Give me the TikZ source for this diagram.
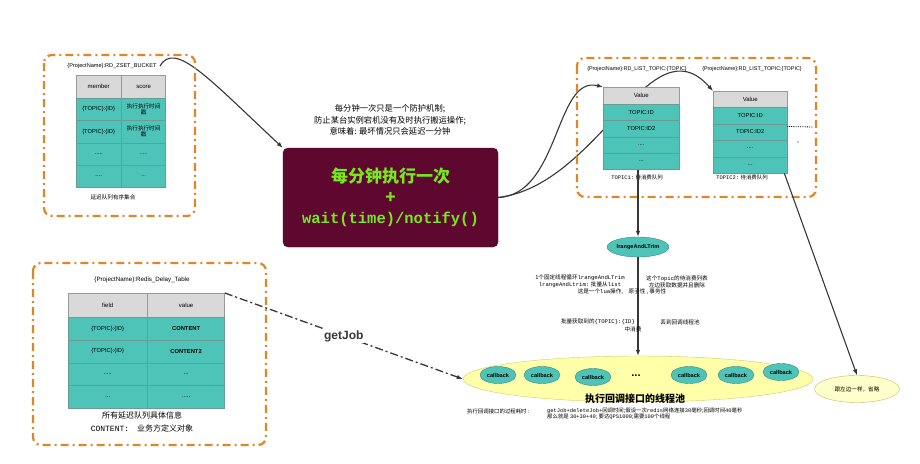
\documentclass[tikz,border=0pt]{standalone}
\usepackage{fontspec}
\setmainfont{Noto Sans CJK SC}
\newfontfamily\arialfont{Liberation Sans}
\newfontfamily\monofont{Liberation Mono}
\usetikzlibrary{arrows.meta,positioning,shapes.geometric,calc}

\definecolor{zoneorange}{RGB}{224,134,40}
\definecolor{cellteal}{RGB}{78,196,184}
\definecolor{headgray}{RGB}{217,217,217}
\definecolor{clockred}{RGB}{94,8,48}
\definecolor{clockgreen}{RGB}{118,232,30}
\definecolor{poolyellow}{RGB}{255,255,170}
\definecolor{linegray}{RGB}{55,55,55}

\newcommand{\fsz}[2]{\fontsize{#1}{#2}\selectfont}
\newcommand{\cellfourdots}{....}
\newcommand{\cellthreedots}{...}

\pgfdeclarelayer{back}
\pgfsetlayers{back,main}

\tikzset{
  zonebox/.style={draw=zoneorange, line width=2.2pt, rounded corners=8pt,
    dash pattern=on 8pt off 4pt on 2pt off 4pt},
  headcell/.style={draw=gray!80, fill=headgray, inner sep=0pt, align=center,
    font=\fsz{6}{7}\arialfont},
  bodycell/.style={draw=gray!60!cellteal, fill=cellteal, inner sep=0pt, align=center,
    font=\fsz{5.8}{7}\arialfont},
  smallnote/.style={align=center, inner sep=0pt, font=\fsz{5.6}{7}},
  cbnode/.style={ellipse, draw=cellteal!70!black, fill=cellteal, inner sep=0pt,
    minimum width=36pt, minimum height=17pt, font=\fsz{5.6}{6}\arialfont\bfseries},
  link/.style={->, draw=linegray, line width=1.1pt}
}

\begin{document}
\begin{tikzpicture}[
  x=1pt, y=-1pt,
  >={Latex[length=6pt,width=4.5pt]},
  font=\fsz{6}{7}
]
\useasboundingbox (0,0) rectangle (920,463);

% dash-dot zones
\draw[zonebox] (44,55) rectangle (195,216);
\draw[zonebox] (577,58) rectangle (816,197);
\draw[zonebox] (33,263) rectangle (266,445);

% zset bucket
\node[font=\fsz{5.6}{6}\arialfont] (zsettitle) at (112,66) {\{ProjectName\}:RD\_ZSET\_BUCKET};
\node[headcell, minimum width=45pt, minimum height=23pt, anchor=north west] (zs-h1) at (76,75) {member};
\node[headcell, minimum width=44pt, minimum height=23pt, right=0pt of zs-h1] (zs-h2) {score};
\foreach \a/\b [count=\i] in {{\{TOPIC\}:\{ID\}}/{执行执行时间\\戳}, {\{TOPIC\}:\{ID\}}/{执行执行时间\\戳},
    {\cellfourdots.}/{\cellfourdots.}, {\cellfourdots}/{\cellthreedots}} {
  \node[bodycell, minimum width=45pt, minimum height=22.25pt, anchor=north west] (zs-a\i) at (76,{98+(\i-1)*22.25}) {\a};
  \node[bodycell, minimum width=44pt, minimum height=22.25pt, right=0pt of zs-a\i, font=\fsz{5.6}{6.5}] (zs-b\i) {\b};
}
\node[smallnote] (zsetcap) at (113,197) {延迟队列有序集合};

% per-minute mover
\node[align=center, font=\fsz{8.3}{11.5}] (guardnote) at (390,120)
  {每分钟一次只是一个防护机制;\\防止某台实例宕机没有及时执行搬运操作;\\意味着: 最坏情况只会延迟一分钟};
\node[draw=clockred!60!black, fill=clockred, rounded corners=5pt,
  minimum width=215pt, minimum height=99pt, align=center, text=clockgreen,
  font=\fsz{17}{20.5}\bfseries] (clock) at (390.5,197.5)
  {每分钟执行一次\\+\\{\monofont\fsz{15.5}{20.5}\bfseries wait(time)/notify()}};

% topic lists
\node[font=\fsz{5.4}{6}\arialfont] (lt1title) at (637,69) {\{ProjectName\}:RD\_LIST\_TOPIC:\{TOPIC\}};
\node[font=\fsz{5.4}{6}\arialfont] (lt2title) at (752,69) {\{ProjectName\}:RD\_LIST\_TOPIC:\{TOPIC\}};
\node[headcell, minimum width=76pt, minimum height=17pt, anchor=north west] (lt1-h) at (603,87) {Value};
\foreach \t [count=\i] in {TOPIC:ID, TOPIC:ID2, \cellfourdots, \cellthreedots}
  \node[bodycell, minimum width=76pt, minimum height=16.3pt, anchor=north west] (lt1-r\i) at (603,{104+(\i-1)*16.3}) {\t};
\node[headcell, minimum width=74pt, minimum height=16pt, anchor=north west] (lt2-h) at (713,91) {Value};
\foreach \t [count=\i] in {TOPIC:ID, TOPIC:ID2, \cellfourdots, \cellthreedots}
  \node[bodycell, minimum width=74pt, minimum height=16.5pt, anchor=north west] (lt2-r\i) at (713,{107+(\i-1)*16.5}) {\t};
\node[smallnote, font=\fsz{5.4}{6}] (lt1cap) at (637,177) {{\monofont TOPIC1:} 待消费队列};
\node[smallnote, font=\fsz{5.4}{6}] (lt2cap) at (742,177) {{\monofont TOPIC2:} 待消费队列};
\coordinate (dotend) at (813,127);
\draw[densely dotted, line width=0.8pt] ([yshift=-3pt]lt2-r2.north east) -- (dotend);
\fill (798,142) circle (0.7pt);

% curves behind the tables
\begin{pgfonlayer}{back}
\draw[link] (zsettitle.east) .. controls (175,40) and (210,80) .. (clock.north west);
\draw[link] (clock.east) .. controls (560,195) and (555,75) .. (lt1-h.north west);
\draw[link] (clock.east) .. controls (600,185) and (650,20) .. (lt2-h.north west);
\end{pgfonlayer}

% lrange + thread pool
\node[ellipse, draw=cellteal!70!black, fill=cellteal, minimum width=62pt, minimum height=20pt,
  inner sep=0pt, font=\fsz{5.6}{6}\arialfont\bfseries] (trim) at (638,247) {lrangeAndLTrim};
\node[ellipse, draw=poolyellow!60!olive, fill=poolyellow, minimum width=350pt, minimum height=46pt,
  inner sep=0pt] (pool) at (638,379) {};
\foreach \x/\y [count=\i] in {498/375, 542/375, 593/377, 689/375, 736/375, 781/372}
  \node[cbnode] (cb\i) at (\x,\y) {callback};
\node[font=\fsz{11}{11}\arialfont\bfseries] (cbdots) at (636,376) {...};
\node[font=\fsz{10}{11}\bfseries] (poolname) at (635,399) {执行回调接口的线程池};
\draw[link] (lt1-r4.south -| trim.north) -- (trim.north);
\draw[link] (trim.south) -- (pool.north);

\node[smallnote] (loopnote) at (580,281.5)
  {1个固定线程循环{\monofont lrangeAndLTrim}\\{\monofont lrangeAndLtrim:} 批量从{\monofont list}};
\node[smallnote] (luanote) at (622,292) {这是一个{\monofont lua}操作,\quad 原子性 , 事务性};
\node[smallnote] (listnote) at (677,281.5) {这个{\monofont Topic}的待消费列表\\左边获取数据并且删除};
\node[smallnote] (fetchnote) at (598,322) {批量获取到的{\monofont\{TOPIC\}:\{ID\}}};
\node[smallnote] (dropnote) at (680,322) {丢到回调线程池};
\node[smallnote] (consumenote) at (633,329) {中消费};

\node[smallnote, font=\fsz{5.4}{6}, anchor=west] (costlabel) at (467,411) {执行回调接口的过程耗时 :};
\node[smallnote, font=\fsz{5.4}{6.2}, align=left, anchor=west] (costnote) at (547,414)
  {{\monofont getJob+deleteJob+}回调时间;假设一次{\monofont redis}网络连接{\monofont 30}毫秒;回调时间{\monofont 40}毫秒\\
   那么就是 {\monofont 30+30+40}; 要达{\monofont QPS1000};需要{\monofont 100}个线程};

% other topic
\node[ellipse, draw=poolyellow!50!olive, fill=poolyellow!60, minimum width=85pt, minimum height=27pt,
  inner sep=0pt, font=\fsz{5.6}{6}] (same) at (857,389) {跟左边一样，省略};
\draw[link] ([xshift=-3pt]lt2-r4.south east) -- (same.north);

% delay table
\node[font=\fsz{6.2}{7}\arialfont] (dttitle) at (142,280) {\{ProjectName\}:Redis\_Delay\_Table};
\node[headcell, minimum width=79pt, minimum height=24pt, anchor=north west] (dt-h1) at (68,293) {field};
\node[headcell, minimum width=77pt, minimum height=24pt, right=0pt of dt-h1] (dt-h2) {value};
\foreach \a/\b [count=\i] in {{\{TOPIC\}:\{ID\}}/{\textbf{CONTENT}}, {\{TOPIC\}:\{ID\}}/{\textbf{CONTENT2}},
    {\cellfourdots.}/{\cellthreedots}, {\cellthreedots}/{\cellfourdots.}} {
  \node[bodycell, minimum width=79pt, minimum height=22.75pt, anchor=north west] (dt-a\i) at (68,{317+(\i-1)*22.75}) {\a};
  \node[bodycell, minimum width=77pt, minimum height=22.75pt, right=0pt of dt-a\i] (dt-b\i) {\b};
}
\node[align=center, font=\fsz{8}{9}] (dtcap) at (142,415) {所有延迟队列具体信息};
\node[align=center, font=\fsz{8}{9}] (contentcap) at (142,428) {{\monofont CONTENT:}\quad 业务方定义对象};

\draw[link, line width=1.3pt, dash pattern=on 8pt off 3pt on 2pt off 3pt]
  (dt-h2.north east) -- node[fill=white, inner sep=1pt, text=linegray, font=\fsz{12}{12}\arialfont\bfseries] {getJob} (pool.west);
\end{tikzpicture}
\end{document}
